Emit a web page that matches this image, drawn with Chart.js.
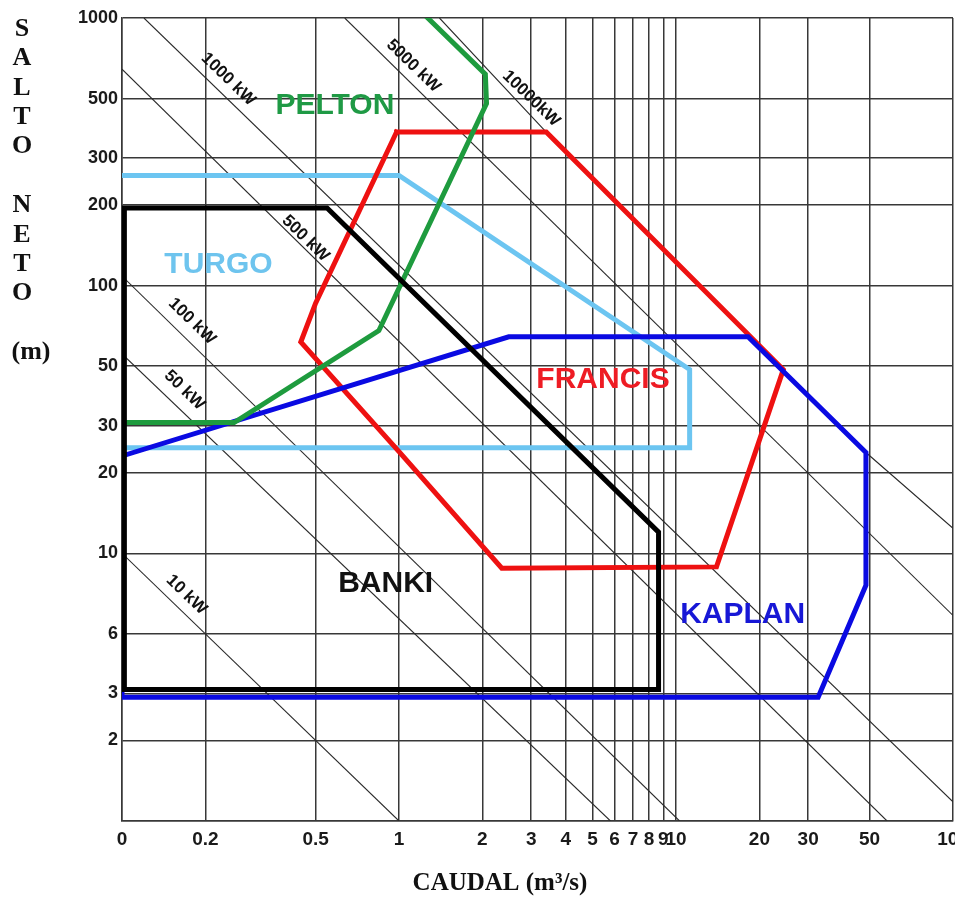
<!DOCTYPE html>
<html lang="es">
<head>
<meta charset="UTF-8">
<title>Selección de turbinas</title>
<script src="https://cdn.jsdelivr.net/npm/chart.js"></script>
<style>
  body { margin: 0; background: #fff; }
  #grafico { display: block; }
</style>
</head>
<body>
<canvas id="grafico" width="955" height="897"></canvas>
<script>
// ejes: caudal (m3/s) y salto neto (m)
const xTickValues = [0.1, 0.2, 0.5, 1, 2, 3, 4, 5, 6, 7, 8, 9, 10, 20, 30, 50, 100];
const xTickLabels = ['0', '0.2', '0.5', '1', '2', '3', '4', '5', '6', '7', '8', '9', '10', '20', '30', '50', '100'];
const yTickValues = [1, 2, 3, 5, 10, 20, 30, 50, 100, 200, 300, 500, 1000];
const yTickLabels = ['', '2', '3', '6', '10', '20', '30', '50', '100', '200', '300', '500', '1000'];

// zonas de aplicacion [caudal, salto]
const pelton = [[1.27, 1000], [2.05, 617], [2.07, 479], [0.846, 68], [0.254, 30.8], [0.1, 30.8]];
const turgo = [[0.1, 258], [1, 258], [11.2, 48.6], [11.2, 24.8], [0.1, 24.8]];
const banki = [[0.102, 3.1], [0.102, 195], [0.55, 195], [8.65, 12.0], [8.65, 3.1], [0.102, 3.1]];
const francis = [[0.98, 375], [3.4, 375], [24.4, 48.6], [14.0, 8.9], [2.35, 8.8], [1.0, 24], [0.442, 61.6], [0.5, 86], [0.98, 375]];
const kaplan = [[0.1, 23.1], [2.49, 64.4], [18.2, 64.4], [48.5, 23.8], [48.5, 7.6], [32.6, 2.9], [0.1, 2.9], [0.1, 23.1]];

// lineas de potencia constante
const potenciaLabels = ['10 kW', '50 kW', '100 kW', '500 kW', '1000 kW', '5000 kW', '10000kW'];
const potenciaLineas = [
  [[0.1, 10], [1, 1]],
  [[0.1, 55.6], [5.8, 1]],
  [[0.1, 108.6], [10.3, 1]],
  [[0.1, 644], [57.8, 1]],
  [[0.12, 1000], [100, 1.18]],
  [[0.637, 1000], [100, 5.86]],
  [[1.4, 1000], [3.4, 375], [48.5, 23.8], [100, 12.4]]
];

const tituloY = 'SALTO NETO (m)';
const tituloX = 'CAUDAL (m³/s)';

// donde va cada rotulo (en unidades de los ejes)
const rotulosZona = [
  { texto: 'PELTON', q: 0.587, h: 471, color: '#1f9a45' },
  { texto: 'TURGO', q: 0.223, h: 120, color: '#6ec4ee' },
  { texto: 'BANKI', q: 0.895, h: 7.7, color: '#111111' },
  { texto: 'FRANCIS', q: 5.45, h: 44.5, color: '#ee1c24' },
  { texto: 'KAPLAN', q: 17.4, h: 5.9, color: '#1717d6' }
];
const rotulosPotencia = [[0.171, 7.0], [0.168, 40.7], [0.179, 73.6], [0.46, 150], [0.242, 590], [1.127, 662], [3.0, 500]];

function puntos(lista) {
  return lista.map(p => ({ x: p[0], y: p[1] }));
}

function zona(lista, color) {
  return {
    data: puntos(lista),
    showLine: true,
    borderColor: color,
    borderWidth: 5,
    pointRadius: 0,
    borderCapStyle: 'square',
    borderJoinStyle: 'miter'
  };
}

const datasets = [
  zona(banki, '#000000'),
  zona(pelton, '#1e9b3e'),
  zona(kaplan, '#0a0ae2'),
  zona(francis, '#ee1111'),
  zona(turgo, '#6cc5f1')
];
potenciaLineas.forEach(l => {
  datasets.push({
    data: puntos(l),
    showLine: true,
    borderColor: '#2a2a2a',
    borderWidth: 1.1,
    pointRadius: 0
  });
});

const textos = {
  id: 'textos',
  afterDatasetsDraw(chart) {
    const ctx = chart.ctx;
    const x = chart.scales.x, y = chart.scales.y;
    ctx.save();
    ctx.textAlign = 'center';
    ctx.textBaseline = 'middle';

    ctx.font = 'bold 30px "Liberation Sans", Arial, sans-serif';
    rotulosZona.forEach(r => {
      ctx.fillStyle = r.color;
      ctx.fillText(r.texto, x.getPixelForValue(r.q), y.getPixelForValue(r.h));
    });

    const dx = x.getPixelForValue(10) - x.getPixelForValue(1);
    const dy = y.getPixelForValue(1) - y.getPixelForValue(10);
    const ang = Math.atan2(dy, dx);
    ctx.font = 'bold 17px "Liberation Sans", Arial, sans-serif';
    ctx.fillStyle = '#111';
    potenciaLabels.forEach((t, i) => {
      ctx.save();
      ctx.translate(x.getPixelForValue(rotulosPotencia[i][0]), y.getPixelForValue(rotulosPotencia[i][1]));
      ctx.rotate(ang);
      ctx.fillText(t, 0, 0);
      ctx.restore();
    });

    // titulo vertical, letra por letra
    ctx.font = 'bold 26px "Liberation Serif", "Times New Roman", serif';
    ctx.fillStyle = '#111';
    let fila = 0;
    tituloY.split(' ').forEach(palabra => {
      if (palabra.startsWith('(')) {
        ctx.fillText(palabra, 31, 29 + fila * 29.4);
        fila += 2;
        return;
      }
      for (const letra of palabra) {
        ctx.fillText(letra, 22, 29 + fila * 29.4);
        fila++;
      }
      fila++;
    });

    ctx.font = 'bold 25px "Liberation Serif", "Times New Roman", serif';
    ctx.textBaseline = 'alphabetic';
    ctx.fillText(tituloX, 500, 890);
    ctx.restore();
  }
};

const grid = { color: '#383838', lineWidth: 1.5, drawTicks: false };
const border = { color: '#383838', width: 1.5 };
const fuenteTicks = { family: '"Liberation Sans", Arial, sans-serif', weight: 'bold' };

new Chart(document.getElementById('grafico'), {
  type: 'scatter',
  data: { datasets: datasets },
  options: {
    responsive: false,
    animation: false,
    layout: { padding: { top: 18, right: 2, left: 0, bottom: 0 } },
    plugins: { legend: { display: false }, tooltip: { enabled: false } },
    scales: {
      x: {
        type: 'logarithmic',
        min: 0.1,
        max: 100,
        grid: grid,
        border: border,
        afterBuildTicks: s => { s.ticks = xTickValues.map(v => ({ value: v })); },
        afterFit: s => { s.height = 76; s.paddingLeft = 0; s.paddingRight = 0; },
        ticks: {
          autoSkip: false,
          maxRotation: 0,
          minRotation: 0,
          padding: 7,
          color: '#1a1a1a',
          font: Object.assign({ size: 19 }, fuenteTicks),
          callback: v => xTickLabels[xTickValues.indexOf(v)]
        }
      },
      y: {
        type: 'logarithmic',
        min: 1,
        max: 1000,
        grid: grid,
        border: border,
        afterBuildTicks: s => { s.ticks = yTickValues.map(v => ({ value: v })); },
        afterFit: s => { s.width = 122; s.paddingTop = 0; s.paddingBottom = 0; },
        ticks: {
          autoSkip: false,
          padding: 4,
          color: '#1a1a1a',
          font: Object.assign({ size: 18 }, fuenteTicks),
          callback: v => yTickLabels[yTickValues.indexOf(v)]
        }
      }
    }
  },
  plugins: [textos]
});
</script>
</body>
</html>
